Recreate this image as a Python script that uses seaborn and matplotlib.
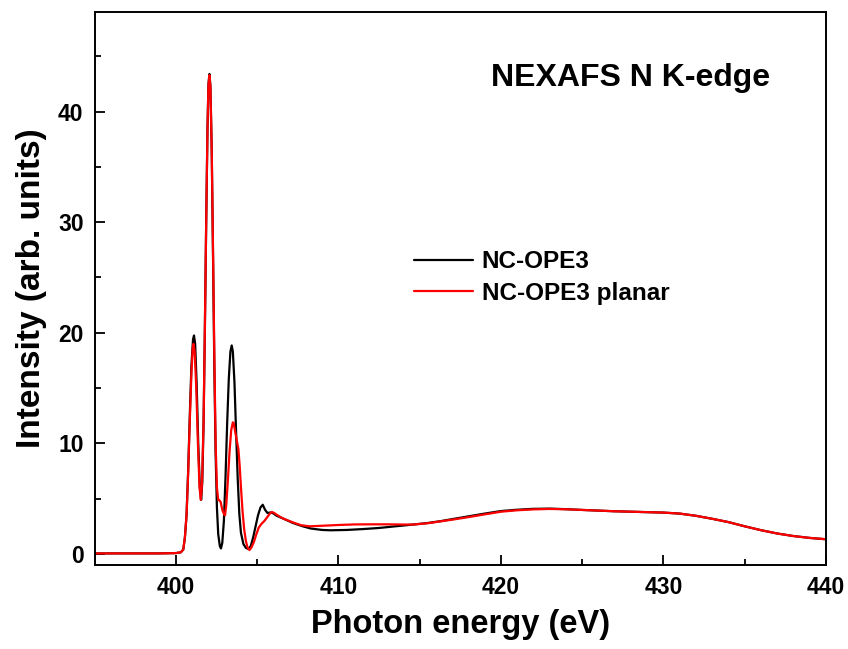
import numpy as np
import pandas as pd
import seaborn as sns
import matplotlib
matplotlib.use("Agg")
import matplotlib.pyplot as plt

# ---- data ----
energy_ope3 = [395.0, 397.0, 399.0, 400.0, 400.3, 400.45, 400.55, 400.65, 400.75, 400.85,
               400.95, 401.05, 401.11, 401.18, 401.27, 401.37, 401.47, 401.55, 401.62, 401.7,
               401.78, 401.86, 401.94, 402.0, 402.06, 402.12, 402.2, 402.28, 402.36, 402.44,
               402.52, 402.6, 402.7, 402.77, 402.85, 402.95, 403.05, 403.15, 403.25, 403.35,
               403.43, 403.5, 403.6, 403.7, 403.8, 403.9, 404.0, 404.15, 404.3, 404.45,
               404.6, 404.75, 404.9, 405.05, 405.2, 405.34, 405.48, 405.63, 405.8, 405.95,
               406.2, 406.6, 407.2, 407.8, 408.3, 409.0, 409.5, 410.5, 411.5, 412.5,
               413.5, 414.6, 415.5, 416.3, 417.0, 418.0, 419.0, 420.0, 421.0, 422.0,
               423.0, 424.0, 425.0, 426.0, 427.0, 428.0, 429.0, 430.0, 431.0, 432.0,
               433.0, 434.0, 435.0, 436.0, 437.0, 438.0, 439.0, 440.0]
intensity_ope3 = [0.05, 0.05, 0.05, 0.08, 0.15, 0.4, 1.5, 3.5, 7.5, 12.5,
                  17.0, 19.4, 19.75, 19.0, 15.5, 10.0, 6.0, 4.9, 6.5, 12.0,
                  20.5, 30.0, 38.5, 42.5, 43.4, 42.3, 36.5, 27.0, 17.0, 9.0,
                  4.2, 1.8, 0.7, 0.5, 1.0, 3.0, 7.0, 11.8, 15.8, 18.3,
                  18.85, 18.3, 15.5, 11.0, 6.8, 3.6, 1.9, 0.9, 0.55, 0.45,
                  0.7, 1.5, 2.5, 3.5, 4.2, 4.45, 4.0, 3.7, 3.75, 3.7,
                  3.45, 3.2, 2.8, 2.5, 2.3, 2.17, 2.14, 2.17, 2.25, 2.35,
                  2.5, 2.66, 2.8, 2.97, 3.15, 3.4, 3.65, 3.88, 4.0, 4.08,
                  4.1, 4.05, 3.98, 3.92, 3.86, 3.82, 3.78, 3.74, 3.65, 3.45,
                  3.18, 2.88, 2.5, 2.15, 1.85, 1.62, 1.45, 1.33]

energy_planar = [395.0, 397.0, 399.0, 400.0, 400.3, 400.45, 400.55, 400.65, 400.75, 400.85,
                 400.95, 401.03, 401.08, 401.15, 401.25, 401.35, 401.45, 401.53, 401.6, 401.7,
                 401.78, 401.86, 401.94, 402.0, 402.06, 402.12, 402.2, 402.28, 402.36, 402.44,
                 402.52, 402.6, 402.67, 402.75, 402.85, 402.95, 403.02, 403.1, 403.2, 403.3,
                 403.4, 403.5, 403.55, 403.65, 403.75, 403.84, 403.92, 404.0, 404.1, 404.2,
                 404.3, 404.4, 404.52, 404.65, 404.8, 404.95, 405.1, 405.28, 405.45, 405.6,
                 405.75, 405.9, 406.05, 406.3, 406.6, 407.2, 407.7, 408.2, 409.0, 410.0,
                 411.0, 412.0, 413.0, 414.0, 414.6, 415.5, 416.3, 417.0, 418.0, 419.0,
                 420.0, 421.0, 422.0, 423.0, 424.0, 425.0, 426.0, 427.0, 428.0, 429.0,
                 430.0, 431.0, 432.0, 433.0, 434.0, 435.0, 436.0, 437.0, 438.0, 439.0, 440.0]
intensity_planar = [0.05, 0.05, 0.05, 0.08, 0.15, 0.4, 1.5, 3.5, 7.3, 12.0,
                    16.3, 18.6, 19.0, 18.3, 15.0, 10.0, 6.0, 4.9, 6.3, 12.0,
                    20.5, 30.0, 38.5, 42.4, 43.3, 42.2, 36.5, 27.5, 18.0, 10.0,
                    6.0, 4.9, 4.85, 4.7, 4.0, 3.6, 3.5, 4.5, 6.8, 9.3,
                    11.2, 11.9, 11.85, 11.0, 10.2, 9.5, 8.0, 6.0, 3.8, 2.2,
                    1.2, 0.6, 0.35, 0.6, 1.1, 1.8, 2.4, 2.75, 3.0, 3.3,
                    3.6, 3.8, 3.7, 3.45, 3.2, 2.85, 2.6, 2.5, 2.55, 2.62,
                    2.67, 2.68, 2.68, 2.66, 2.66, 2.78, 2.95, 3.1, 3.33, 3.58,
                    3.82, 3.95, 4.03, 4.07, 4.04, 3.98, 3.92, 3.86, 3.82, 3.78,
                    3.74, 3.65, 3.45, 3.18, 2.88, 2.5, 2.15, 1.85, 1.62, 1.45, 1.33]

series_names = ["NC-OPE3", "NC-OPE3 planar"]
series_colors = ["black", "red"]
x_ticks = [400, 410, 420, 430, 440]
y_ticks = [0, 10, 20, 30, 40]
title_text = "NEXAFS N K-edge"

df = pd.concat([
    pd.DataFrame({"Energy": energy_ope3, "Intensity": intensity_ope3, "Sample": series_names[0]}),
    pd.DataFrame({"Energy": energy_planar, "Intensity": intensity_planar, "Sample": series_names[1]}),
], ignore_index=True)

sns.set_theme(style="ticks")
plt.rcParams["font.family"] = ["Liberation Sans", "DejaVu Sans"]
plt.rcParams["font.weight"] = "bold"
plt.rcParams["text.color"] = "black"
plt.rcParams["axes.labelcolor"] = "black"
plt.rcParams["xtick.color"] = "black"
plt.rcParams["ytick.color"] = "black"

fig = plt.figure(figsize=(8.48, 6.49), dpi=100)
ax = fig.add_axes([0.1117, 0.1294, 0.974 - 0.1117, 0.9815 - 0.1294])

sns.lineplot(data=df, x="Energy", y="Intensity", hue="Sample", sort=False,
             palette=dict(zip(series_names, series_colors)), linewidth=1.6, ax=ax,
             estimator=None)

ax.set_xlim(395, 440)
ax.set_ylim(-1, 49)
ax.set_xticks(x_ticks)
ax.set_yticks(y_ticks)
ax.set_xticks([405, 415, 425, 435], minor=True)
ax.set_yticks([5, 15, 25, 35, 45], minor=True)
ax.tick_params(axis="both", which="major", direction="in", length=7.5, width=1.3,
               labelsize=16.5, pad=8, colors="black", top=False, right=False)
ax.tick_params(axis="both", which="minor", direction="in", length=4, width=1.3,
               top=False, right=False)
for lab in ax.get_xticklabels() + ax.get_yticklabels():
    lab.set_fontweight("bold")
for sp in ax.spines.values():
    sp.set_visible(True)
    sp.set_linewidth(1.4)
    sp.set_color("black")

ax.set_xlabel("Photon energy (eV)", fontsize=23.5, fontweight="bold", labelpad=7, color="black")
ax.set_ylabel("Intensity (arb. units)", fontsize=24, fontweight="bold", labelpad=8, color="black")

ax.text(428.0, 43.0, title_text, fontsize=23, fontweight="bold", ha="center", va="center",
        color="black")

leg = ax.legend(loc="upper left", bbox_to_anchor=(0.423, 0.587), frameon=False,
                fontsize=17.5, handlelength=2.45, handletextpad=0.35, labelspacing=0.36,
                borderaxespad=0)
for t in leg.get_texts():
    t.set_fontweight("bold")
    t.set_color("black")
for l in leg.get_lines():
    l.set_linewidth(1.6)

fig.savefig("out.png", dpi=100)
